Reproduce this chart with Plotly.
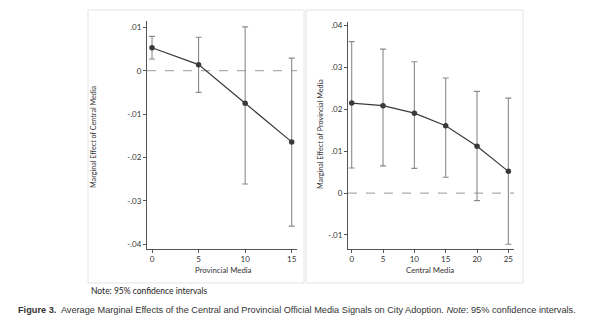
import plotly.graph_objects as go

# ---- data ----
left_x = [0, 5, 10, 15]
left_est = [0.0053, 0.0014, -0.0075, -0.0164]
left_hi = [0.0079, 0.0077, 0.0101, 0.0029]
left_lo = [0.0027, -0.0050, -0.0261, -0.0358]

right_x = [0, 5, 10, 15, 20, 25]
right_est = [0.0215, 0.0209, 0.0191, 0.0161, 0.0112, 0.0052]
right_hi = [0.0362, 0.0344, 0.0314, 0.0275, 0.0243, 0.0227]
right_lo = [0.0060, 0.0065, 0.0059, 0.0038, -0.0018, -0.0122]

left_yticks = [0.01, 0, -0.01, -0.02, -0.03, -0.04]
left_yticklabels = [".01", "0", "-.01", "-.02", "-.03", "-.04"]
left_xticks = [0, 5, 10, 15]
right_yticks = [0.04, 0.03, 0.02, 0.01, 0, -0.01]
right_yticklabels = [".04", ".03", ".02", ".01", "0", "-.01"]
right_xticks = [0, 5, 10, 15, 20, 25]

left_ytitle = "Marginal Effect of Central Media"
left_xtitle = "Provincial Media"
right_ytitle = "Marginal Effect of Provincial Media"
right_xtitle = "Central Media"
note_text = "Note: 95% confidence intervals"
caption = ("<b>Figure 3.</b>  Average Marginal Effects of the Central and Provincial "
           "Official Media Signals on City Adoption. <i>Note</i>: 95% confidence intervals.")

W, H = 600, 325
LINE = "#3a3a3a"
ERR = "#8a8a8a"
AX = "#555555"
TICKFONT = dict(family="Lato", size=8, color="#333333")


def px(x):
    return x / W


def py(y):
    return 1 - y / H


fig = go.Figure()


def add_series(xs, est, hi, lo, xa, ya):
    fig.add_trace(go.Scatter(
        x=xs, y=est, xaxis=xa, yaxis=ya, mode="lines+markers",
        line=dict(color=LINE, width=1.2),
        marker=dict(color=LINE, size=5.5),
        error_y=dict(type="data", symmetric=False,
                     array=[h - e for h, e in zip(hi, est)],
                     arrayminus=[e - l for e, l in zip(est, lo)],
                     color=ERR, thickness=1.1, width=3),
        showlegend=False, hoverinfo="skip"))


add_series(left_x, left_est, left_hi, left_lo, "x", "y")
add_series(right_x, right_est, right_hi, right_lo, "x2", "y2")

axis_common = dict(showline=True, linecolor=AX, linewidth=1, ticks="outside",
                   ticklen=3, tickcolor=AX, tickwidth=1, showgrid=False,
                   zeroline=False, tickfont=TICKFONT, fixedrange=True)

fig.update_layout(
    width=W, height=H, margin=dict(l=0, r=0, t=0, b=0),
    paper_bgcolor="white", plot_bgcolor="rgba(0,0,0,0)",
    xaxis=dict(domain=[px(147), px(297)], range=[-0.54, 15.57],
               tickvals=left_xticks, anchor="y", ticklabelstandoff=0,
               **axis_common),
    yaxis=dict(domain=[py(248.7), py(20.7)], range=[-0.0410, 0.01152],
               tickvals=left_yticks, ticktext=left_yticklabels, anchor="x",
               **axis_common),
    xaxis2=dict(domain=[px(348), px(514)], range=[-0.59, 25.9],
                tickvals=right_xticks, anchor="y2", ticklabelstandoff=0,
                **axis_common),
    yaxis2=dict(domain=[py(248.7), py(21.7)], range=[-0.01328, 0.04095],
                tickvals=right_yticks, ticktext=right_yticklabels, anchor="x2",
                **axis_common),
)

# panel frames
fig.add_shape(type="rect", xref="paper", yref="paper",
              x0=px(88), x1=px(304), y0=py(283), y1=py(10),
              line=dict(color="#e4e4e4", width=1), layer="below")
fig.add_shape(type="rect", xref="paper", yref="paper",
              x0=px(306), x1=px(523), y0=py(283), y1=py(10),
              line=dict(color="#e4e4e4", width=1), layer="below")

# zero reference lines
for xa, ya in [("x", "y"), ("x2", "y2")]:
    fig.add_shape(type="line", xref=f"{xa} domain", yref=ya, x0=0, x1=1,
                  y0=0, y1=0, line=dict(color="#9a9a9a", width=1, dash="dash"),
                  layer="below")

YTITLEFONT = dict(family="Lato", size=7.2, color="#333333")
XTITLEFONT = dict(family="Lato", size=7.8, color="#333333")


def ann(text, x, y, font, angle=0, xanchor="center"):
    fig.add_annotation(text=text, x=px(x), y=py(y), xref="paper", yref="paper",
                       xanchor=xanchor, yanchor="middle", textangle=angle,
                       showarrow=False, font=font)


ann(left_ytitle, 93, 137, YTITLEFONT, angle=-90)
ann(right_ytitle, 320, 134, YTITLEFONT, angle=-90)
ann(left_xtitle, 223, 270, XTITLEFONT)
ann(right_xtitle, 430, 270, XTITLEFONT)
ann(note_text, 89, 291, dict(family="Lato", size=8.5, color="#222222"),
    xanchor="left")
ann(caption, 16, 310, dict(family="Liberation Sans", size=9.2, color="#333333"),
    xanchor="left")

fig.write_html("out.html")
